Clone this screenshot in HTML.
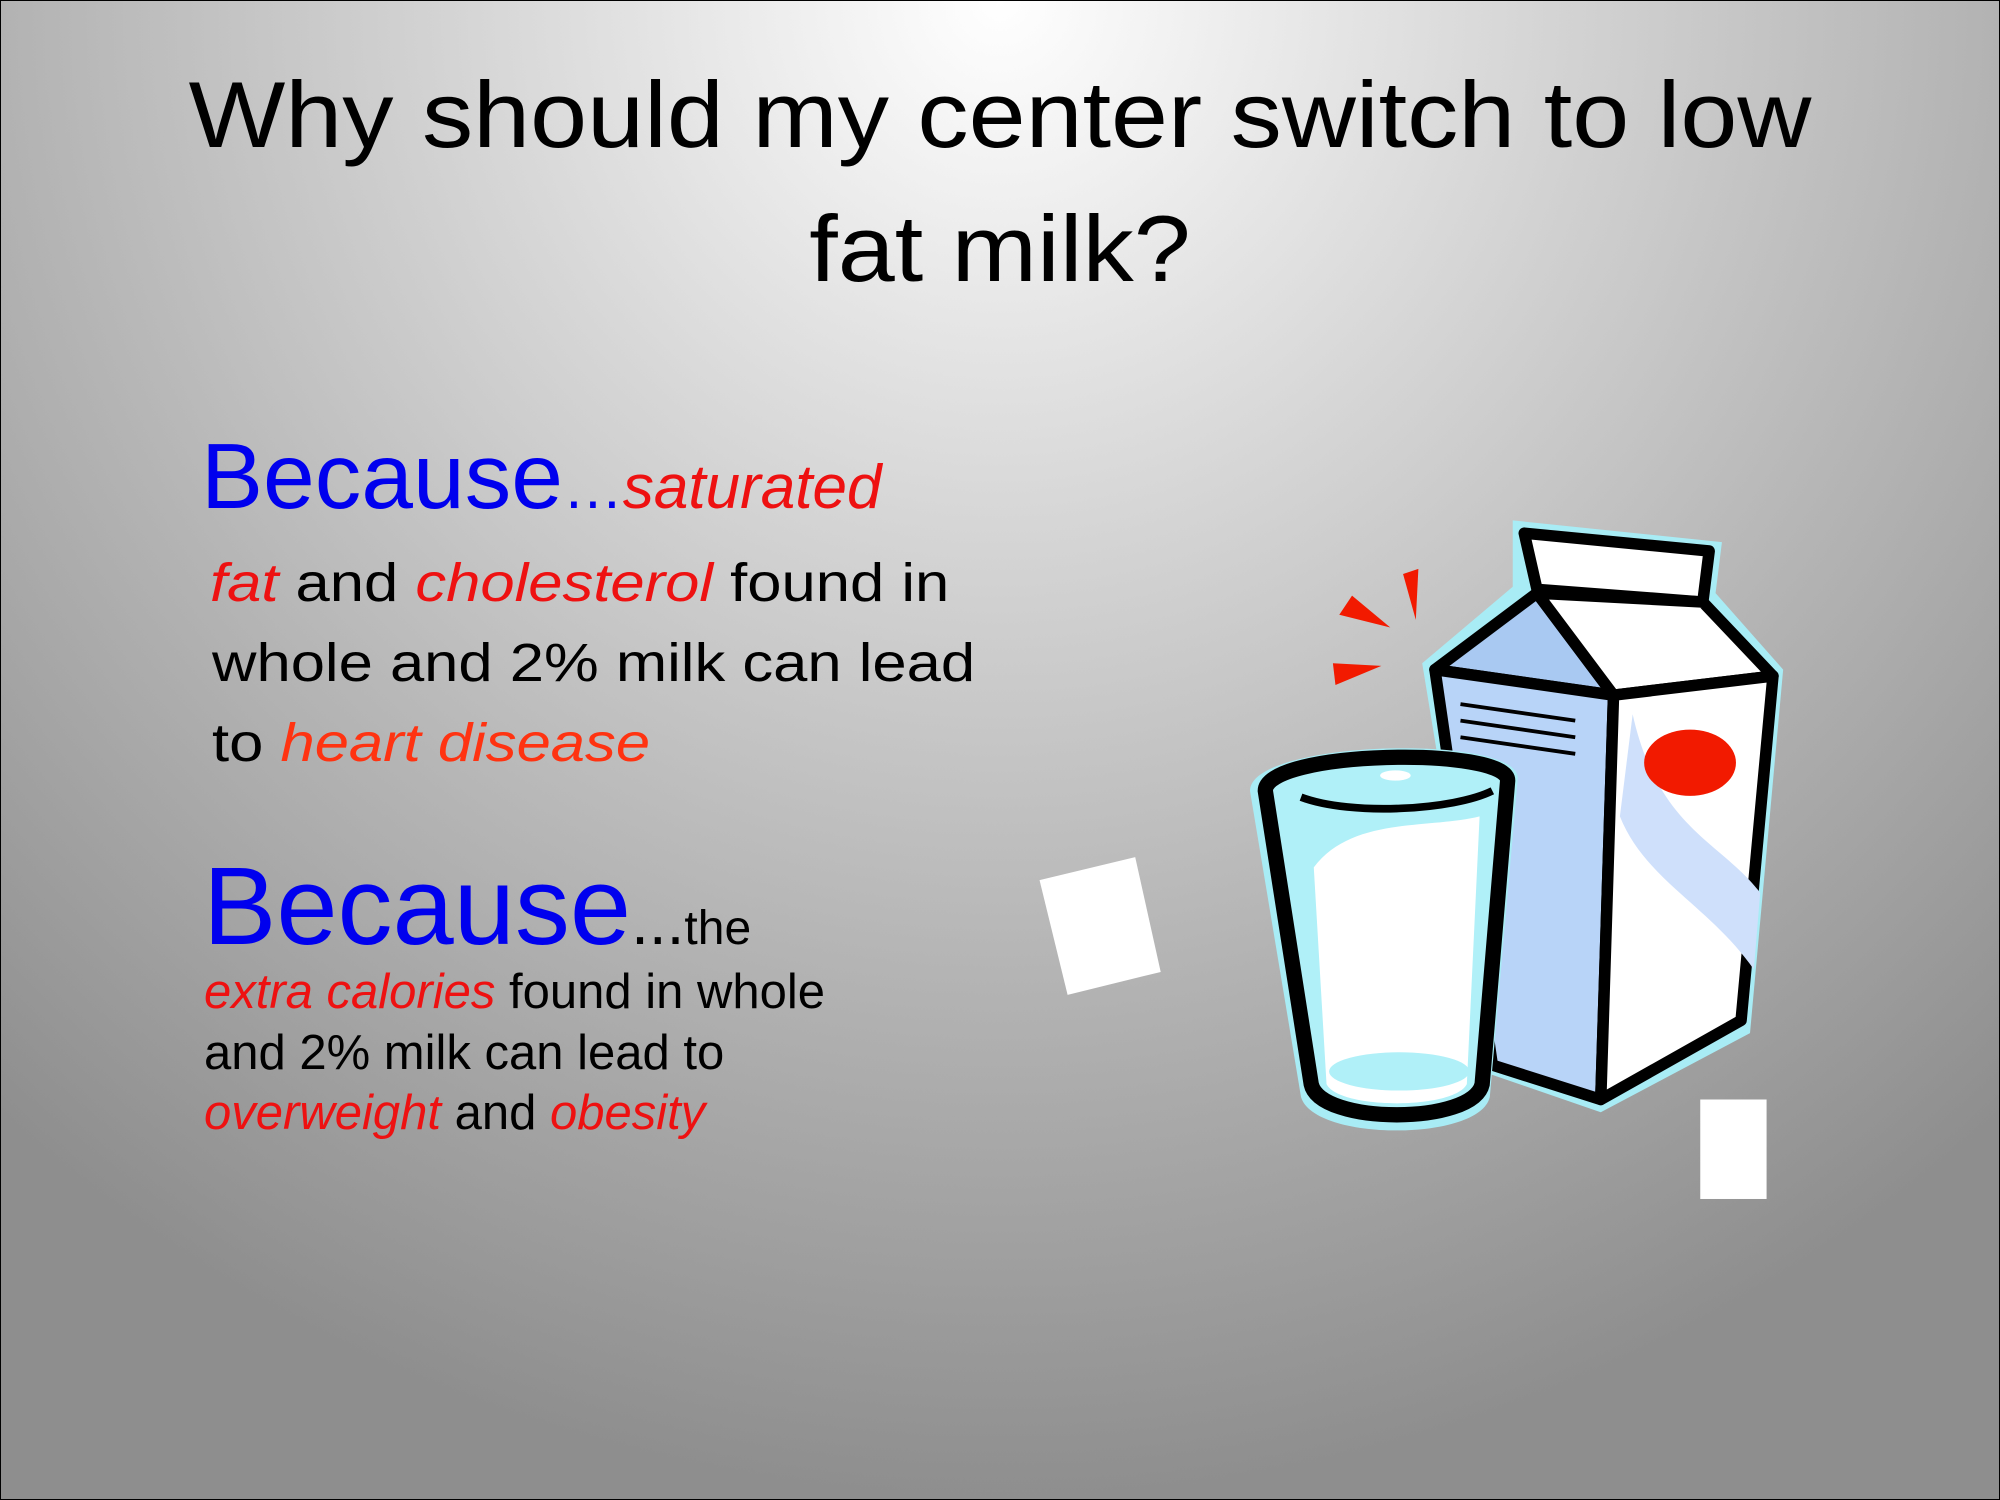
<!DOCTYPE html>
<html><head><meta charset="utf-8">
<style>
html,body{margin:0;padding:0;}
body{width:2000px;height:1500px;overflow:hidden;position:relative;
background:radial-gradient(ellipse 1500px 1500px at 50% 0%, #ffffff 0%, #d6d6d6 35%, #b4b4b4 65%, #8e8e8e 100%);
font-family:"Liberation Sans",sans-serif;}
.frame{position:absolute;left:0;top:0;width:1998px;height:1498px;border:1px solid #000;}
.t{position:absolute;white-space:nowrap;line-height:1;}
.sx{transform-origin:left top;transform:scaleX(1.14);}
</style></head><body>
<div class="frame"></div>
<div class="t" style="left:0;width:2000px;text-align:center;top:68px;font-size:94px;color:#000;transform:scaleX(1.09);">Why should my center switch to low</div>
<div class="t" style="left:0;width:2000px;text-align:center;top:202px;font-size:94px;color:#000;transform:scaleX(1.09);">fat milk?</div>

<div class="t" style="left:201px;top:430px;font-size:93px;color:#0000ee;">Because<span style="font-size:60px">…</span><span style="font-size:62px;font-style:italic;color:#ee1111;">saturated</span></div>
<div class="t sx" style="left:210px;top:556px;font-size:54px;color:#000;"><i style="color:#ee1111">fat</i> and <i style="color:#ee1111">cholesterol</i> found in</div>
<div class="t sx" style="left:212px;top:636px;font-size:54px;color:#000;">whole and 2% milk can lead</div>
<div class="t sx" style="left:212px;top:716px;font-size:54px;color:#000;">to <i style="color:#ff3311">heart disease</i></div>

<div class="t" style="left:203px;top:852px;font-size:110px;color:#0000ee;">Because<span style="color:#000;font-size:64px">...</span><span style="color:#000;font-size:48px">the</span></div>
<div class="t" style="left:204px;top:968px;font-size:49px;color:#000;"><i style="color:#ee1111">extra calories</i> found in whole</div>
<div class="t" style="left:204px;top:1029px;font-size:49px;color:#000;">and 2% milk can lead to</div>
<div class="t" style="left:204px;top:1089px;font-size:49px;color:#000;"><i style="color:#ee1111">overweight</i> and <i style="color:#ee1111">obesity</i></div>

<svg style="position:absolute;left:0;top:0" width="2000" height="1500" viewBox="0 0 1568 1176">
  <polygon points="815,690 890,672 910,762 837,780" fill="#fff"/>
  <rect x="1333" y="862" width="52" height="78" fill="#fff"/>
  <g fill="#f21a00">
    <polygon points="1050,482 1060,467 1090,492"/>
    <polygon points="1045,520 1047,537 1083,522"/>
    <polygon points="1100,450 1112,446 1110,486"/>
  </g>
  <g stroke-linejoin="round">
    <polygon points="1186,408 1350,425 1345,465 1398,525 1372,810 1255,872 1168,842 1115,520 1186,460" fill="#a8ecf5"/>
    <polygon points="1195,418 1340,432 1335,472 1205,462" fill="#fff" stroke="#000" stroke-width="9"/>
    <polygon points="1125,525 1205,465 1265,545" fill="#a9c9f2" stroke="#000" stroke-width="9"/>
    <polygon points="1205,465 1335,472 1390,530 1265,545" fill="#fff" stroke="#000" stroke-width="9"/>
    <polygon points="1125,525 1265,545 1255,862 1170,835" fill="#b8d4f8" stroke="#000" stroke-width="9"/>
    <polygon points="1265,545 1390,530 1365,800 1255,862" fill="#fff" stroke="#000" stroke-width="9"/>
    <path d="M1280,560 C1300,650 1350,660 1380,700 L1375,760 C1340,710 1290,690 1270,640 Z" fill="#cfe0fb"/>
    <ellipse cx="1325" cy="598" rx="36" ry="26" fill="#f21a00"/>
    <g stroke="#000" stroke-width="3">
      <line x1="1145" y1="552" x2="1235" y2="565"/>
      <line x1="1145" y1="565" x2="1235" y2="578"/>
      <line x1="1145" y1="578" x2="1235" y2="591"/>
    </g>
  </g>
  <g>
    <path d="M980,620 C980,580 1190,575 1190,610 L1168,860 C1160,895 1030,895 1020,860 Z" fill="#a8ecf5"/>
    <path d="M992,620 C992,588 1182,585 1182,612 L1162,850 C1155,882 1035,882 1028,850 Z" fill="#b0f0f8" stroke="#000" stroke-width="12"/>
    <path d="M1030,680 C1060,640 1120,650 1160,640 L1150,850 C1140,870 1050,870 1040,850 Z" fill="#fff"/>
    <path d="M1020,625 C1060,640 1140,635 1170,620" fill="none" stroke="#000" stroke-width="6"/>
    <ellipse cx="1094" cy="608" rx="12" ry="4" fill="#fff"/>
    <ellipse cx="1097" cy="840" rx="55" ry="15" fill="#b0f0f8"/>
  </g>
</svg>
</body></html>
